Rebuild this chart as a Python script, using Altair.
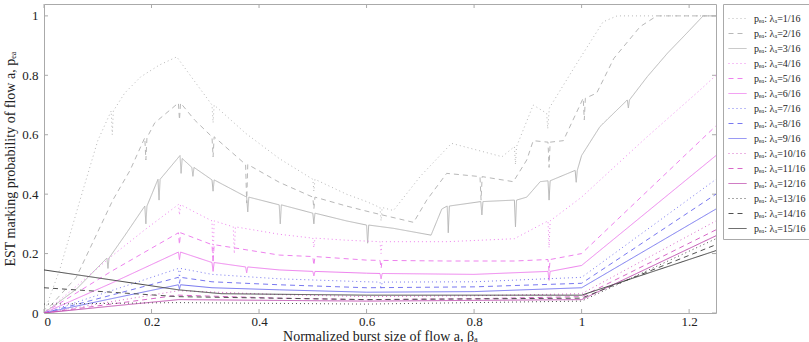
import altair as alt
import pandas as pd

# Curves of the EST marking probability p_ea against the burst size beta_a,
# one per arrival share lambda_a = k/16. Closely spaced x values draw the narrow dips.
P01 = [(0, 0), (0.03, 0.15), (0.067, 0.38), (0.1, 0.58), (0.125, 0.68), (0.127, 0.60), (0.129, 0.68),
       (0.15, 0.74), (0.18, 0.795), (0.215, 0.835), (0.247, 0.862), (0.28, 0.78), (0.3125, 0.70),
       (0.3145, 0.64), (0.3165, 0.70), (0.375, 0.605), (0.4375, 0.52), (0.5, 0.45), (0.502, 0.41), (0.504, 0.45),
       (0.5625, 0.40), (0.6, 0.375), (0.625, 0.355), (0.627, 0.31), (0.629, 0.355), (0.65, 0.345),
       (0.7, 0.46), (0.758, 0.571), (0.8125, 0.545), (0.852, 0.526), (0.875, 0.56), (0.877, 0.50),
       (0.879, 0.56), (0.91, 0.70), (0.935, 0.672), (0.937, 0.62), (0.94, 0.69), (0.991, 0.84),
       (1.04, 0.98), (1.066, 1.0), (1.25, 1.0)]
P02 = [(0, 0), (0.06, 0.12), (0.128, 0.38), (0.16, 0.48), (0.1875, 0.59), (0.1895, 0.515), (0.1915, 0.59),
       (0.206, 0.64), (0.25, 0.707), (0.252, 0.65), (0.254, 0.707), (0.28, 0.65), (0.3125, 0.593),
       (0.3145, 0.525), (0.3165, 0.593), (0.375, 0.50), (0.377, 0.37), (0.379, 0.50), (0.4375, 0.44),
       (0.5, 0.39), (0.502, 0.35), (0.504, 0.39), (0.5625, 0.36), (0.606, 0.34), (0.6875, 0.305),
       (0.712, 0.38), (0.749, 0.47), (0.811, 0.459), (0.813, 0.38), (0.815, 0.459), (0.873, 0.442),
       (0.898, 0.515), (0.91, 0.58), (0.9375, 0.575), (0.9395, 0.49), (0.9415, 0.575), (0.966, 0.58),
       (1.003, 0.723), (1.005, 0.65), (1.007, 0.723), (1.028, 0.74), (1.06, 0.857), (1.109, 0.964),
       (1.14, 1.0), (1.25, 1.0)]
P03 = [(0, 0), (0.06, 0.08), (0.117, 0.185), (0.119, 0.15), (0.121, 0.185), (0.15, 0.26), (0.18, 0.34),
       (0.1875, 0.36), (0.1895, 0.30), (0.1915, 0.36), (0.212, 0.45), (0.214, 0.38), (0.216, 0.45),
       (0.253, 0.53), (0.255, 0.47), (0.257, 0.52), (0.275, 0.49), (0.277, 0.46), (0.279, 0.49),
       (0.3125, 0.448), (0.3145, 0.41), (0.3165, 0.448), (0.377, 0.39), (0.379, 0.34), (0.381, 0.39),
       (0.4375, 0.364), (0.4395, 0.30), (0.4415, 0.364), (0.5, 0.336), (0.502, 0.30), (0.504, 0.336),
       (0.5625, 0.31), (0.6, 0.296), (0.602, 0.235), (0.604, 0.296), (0.65, 0.285), (0.72, 0.262),
       (0.74, 0.35), (0.75, 0.36), (0.752, 0.27), (0.754, 0.36), (0.8125, 0.375), (0.8145, 0.33),
       (0.8165, 0.375), (0.875, 0.38), (0.877, 0.29), (0.879, 0.38), (0.898, 0.39), (0.923, 0.442),
       (0.9375, 0.445), (0.9395, 0.38), (0.9415, 0.445), (0.988, 0.48), (0.99, 0.44), (0.992, 0.48),
       (1.0, 0.53), (1.034, 0.627), (1.085, 0.717), (1.087, 0.69), (1.089, 0.717), (1.122, 0.795),
       (1.16, 0.875), (1.2, 0.95), (1.226, 1.0), (1.25, 1.0)]
P04 = [(0, 0), (0.06, 0.09), (0.125, 0.19), (0.1875, 0.28), (0.25, 0.365), (0.252, 0.33), (0.254, 0.365),
       (0.28, 0.34), (0.3125, 0.31), (0.3145, 0.17), (0.3165, 0.31), (0.352, 0.29), (0.354, 0.20),
       (0.356, 0.29), (0.4375, 0.265), (0.5, 0.252), (0.502, 0.22), (0.504, 0.252), (0.5625, 0.245),
       (0.625, 0.24), (0.627, 0.20), (0.629, 0.24), (0.75, 0.24), (0.875, 0.25), (0.9375, 0.31),
       (0.9395, 0.22), (0.9415, 0.31), (1.0, 0.39), (1.06, 0.49), (1.12, 0.59), (1.22, 0.75), (1.25, 0.80)]
P05 = [(0, 0), (0.125, 0.14), (0.25, 0.27), (0.252, 0.23), (0.254, 0.27), (0.3125, 0.23), (0.3145, 0.17),
       (0.3165, 0.23), (0.4375, 0.195), (0.5, 0.19), (0.502, 0.16), (0.504, 0.19), (0.6, 0.178),
       (0.625, 0.177), (0.627, 0.15), (0.629, 0.177), (0.75, 0.175), (0.875, 0.175), (0.9375, 0.18),
       (0.9395, 0.14), (0.9415, 0.18), (1.0, 0.20), (1.25, 0.63)]
P06 = [(0, 0), (0.125, 0.10), (0.25, 0.205), (0.252, 0.18), (0.254, 0.205), (0.3125, 0.17), (0.3145, 0.14),
       (0.3165, 0.17), (0.375, 0.155), (0.377, 0.135), (0.379, 0.155), (0.4375, 0.145), (0.5, 0.14),
       (0.502, 0.125), (0.504, 0.14), (0.6, 0.134), (0.625, 0.133), (0.627, 0.115), (0.629, 0.133),
       (0.8, 0.13), (0.9375, 0.14), (0.9395, 0.11), (0.9415, 0.14), (1.0, 0.16), (1.25, 0.53)]
P07 = [(0, 0), (0.125, 0.075), (0.25, 0.15), (0.252, 0.12), (0.254, 0.15), (0.3125, 0.13), (0.4375, 0.115),
       (0.6, 0.105), (0.625, 0.104), (0.627, 0.08), (0.629, 0.104), (0.8, 0.105), (1.0, 0.12), (1.25, 0.45)]
P08 = [(0, 0), (0.125, 0.06), (0.25, 0.12), (0.252, 0.10), (0.254, 0.12), (0.3125, 0.105), (0.4375, 0.095),
       (0.6, 0.085), (0.8, 0.088), (1.0, 0.10), (1.25, 0.40)]
P09 = [(0, 0), (0.125, 0.048), (0.25, 0.095), (0.252, 0.08), (0.254, 0.095), (0.3125, 0.085), (0.4375, 0.078),
       (0.6, 0.07), (0.8, 0.072), (1.0, 0.085), (1.25, 0.35)]
P10 = [(0, 0), (0.125, 0.038), (0.25, 0.075), (0.4375, 0.062), (0.6, 0.055), (0.8, 0.058), (1.0, 0.065),
       (1.25, 0.31)]
P11 = [(0, 0), (0.125, 0.03), (0.25, 0.06), (0.4375, 0.05), (0.6, 0.045), (0.8, 0.048), (1.0, 0.055),
       (1.25, 0.28)]
P12 = [(0, 0), (0.125, 0.023), (0.25, 0.045), (0.6, 0.04), (1.0, 0.045), (1.25, 0.26)]
P13 = [(0, 0.03), (0.25, 0.035), (0.6, 0.03), (1.0, 0.04), (1.25, 0.25)]
P14 = [(0, 0.085), (0.25, 0.055), (0.6, 0.045), (1.0, 0.05), (1.25, 0.23)]
P15 = [(0, 0.145), (0.25, 0.078), (0.33, 0.065), (0.6, 0.06), (1.0, 0.06), (1.25, 0.21)]

SERIES = [P01, P02, P03, P04, P05, P06, P07, P08, P09, P10, P11, P12, P13, P14, P15]
LABELS = [f"pₑₐ: λₐ={k}/16" for k in range(1, 16)]

COLORS = ["#b8b8b8", "#b8b8b8", "#b8b8b8",
          "#ee82ee", "#ee82ee", "#ee82ee",
          "#7878f0", "#7878f0", "#7878f0",
          "#d868c8", "#d868c8", "#c050b0",
          "#505050", "#505050", "#404040"]
DOT, DASH, SOLID = [1, 3], [5, 4], [1, 0]
DASHES = [DOT, DASH, SOLID] * 5

X_TICKS = [0, 0.2, 0.4, 0.6, 0.8, 1.0, 1.2]
Y_TICKS = [0, 0.2, 0.4, 0.6, 0.8, 1.0]

rows = []
for label, pts in zip(LABELS, SERIES):
    for i, (x, y) in enumerate(pts):
        rows.append({"series": label, "beta": x, "p": y, "i": i})
df = pd.DataFrame(rows)

FONT = "Liberation Serif"
W, H = 672, 309
x_scale = alt.Scale(domain=[0, 1.25], nice=False, zero=False)
y_scale = alt.Scale(domain=[0, 1.04], nice=False, zero=False)

lines = alt.Chart(df).mark_line(strokeWidth=1, clip=True).encode(
    x=alt.X("beta:Q", scale=x_scale,
            axis=alt.Axis(values=X_TICKS, format="~g", ticks=False, domain=False, grid=False,
                          labelFont=FONT, labelFontSize=13, labelColor="#222", labelPadding=2,
                          title="Normalized burst size of flow a,  βₐ", titleFont=FONT,
                          titleFontSize=14, titleFontWeight="normal", titleColor="#222",
                          titlePadding=1)),
    y=alt.Y("p:Q", scale=y_scale,
            axis=alt.Axis(values=Y_TICKS, format="~g", ticks=False, domain=False, grid=False,
                          labelFont=FONT, labelFontSize=13, labelColor="#222", labelPadding=6,
                          title="EST marking probability of flow a, pₑₐ", titleFont=FONT,
                          titleFontSize=14, titleFontWeight="normal", titleColor="#222",
                          titlePadding=4)),
    color=alt.Color("series:N", sort=LABELS,
                    scale=alt.Scale(domain=LABELS, range=COLORS),
                    legend=alt.Legend(title=None, orient="none", legendX=679, legendY=0,
                                      symbolType="stroke", symbolSize=324, symbolStrokeWidth=1,
                                      labelFont=FONT, labelFontSize=10, labelColor="#222",
                                      labelOffset=7, labelLimit=60,
                                      rowPadding=0, padding=5, strokeColor="#aaaaaa",
                                      fillColor="white")),
    strokeDash=alt.StrokeDash("series:N", sort=LABELS,
                              scale=alt.Scale(domain=LABELS, range=DASHES)),
    order="i:Q",
)

# Inward-pointing tick marks on all four sides of the box
xt = pd.DataFrame({"v": X_TICKS})
yt = pd.DataFrame({"v": Y_TICKS})
tick_color = "#aaaaaa"
xb = alt.Chart(xt).mark_rule(color=tick_color).encode(
    x=alt.X("v:Q", scale=x_scale), y=alt.value(H), y2=alt.value(H - 4))
xtop = alt.Chart(xt).mark_rule(color=tick_color).encode(
    x=alt.X("v:Q", scale=x_scale), y=alt.value(0), y2=alt.value(4))
yl = alt.Chart(yt).mark_rule(color=tick_color).encode(
    y=alt.Y("v:Q", scale=y_scale), x=alt.value(0), x2=alt.value(4))
yr = alt.Chart(yt).mark_rule(color=tick_color).encode(
    y=alt.Y("v:Q", scale=y_scale), x=alt.value(W), x2=alt.value(W - 4))

chart = alt.layer(xb, xtop, yl, yr, lines).resolve_scale(
    strokeDash="shared", color="shared"
).properties(
    width=W, height=H,
    autosize=alt.AutoSizeParams(type="none"),
    padding={"left": 44, "top": 4, "right": 93, "bottom": 29},
    background="white",
).configure_view(stroke="#aaaaaa", strokeWidth=1)

chart.save("out.html", embed_options={"renderer": "svg", "actions": False})
